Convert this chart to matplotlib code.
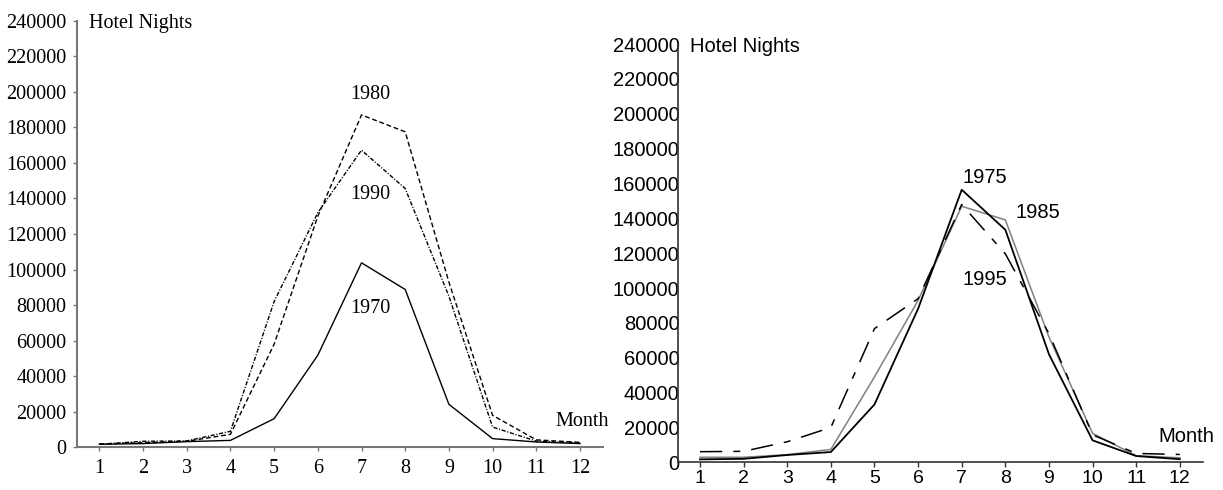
import matplotlib
matplotlib.use("Agg")
import matplotlib.pyplot as plt

months = list(range(1, 13))
month_labels = [str(m) for m in months]
yticks = list(range(0, 240001, 20000))

# Left panel
y1970 = [1700, 2100, 3200, 3900, 16100, 51800, 103800, 88800, 24200, 4900, 3000, 2100]
y1980 = [1900, 2600, 3400, 7300, 58000, 130000, 187000, 177500, 93000, 18000, 4200, 2800]
y1990 = [1700, 3400, 3600, 9000, 82000, 132000, 167200, 145600, 85000, 11400, 3500, 2500]

# Right panel
y1975 = [1700, 2000, 4200, 5900, 33200, 88100, 156400, 133400, 62000, 12600, 3600, 1800]
y1985 = [2900, 2900, 4400, 7400, 49000, 92900, 146900, 139100, 71900, 16600, 3800, 2600]
y1995 = [6100, 6300, 11800, 20000, 76700, 93900, 147900, 119600, 73800, 15800, 5100, 4500]

plt.rcParams['lines.scale_dashes'] = False

fig = plt.figure(figsize=(12.23, 4.90), dpi=100)

# ---------------- Left panel ----------------
serif = 'Liberation Serif'
axL = fig.add_axes([0.063, 0.0871, 0.4298, 0.8706])
axL.plot(months, y1970, color='black', lw=1.0, solid_joinstyle='miter')
axL.plot(months, y1980, color='black', lw=1.0, dashes=(3.5, 2.0))
axL.plot(months, y1990, color='black', lw=1.0, dashes=(3.0, 1.2, 0.8, 1.2))
axL.set_xlim(0.49, 12.52)
axL.set_ylim(0, 240000)
axL.set_xticks(months)
axL.set_xticklabels(month_labels, fontfamily=serif, fontsize=14.5)
axL.set_yticks(yticks)
axL.set_yticklabels([str(v) for v in yticks], fontfamily=serif, fontsize=14.5)
for s in ['top', 'right']:
    axL.spines[s].set_visible(False)
for s in ['left', 'bottom']:
    axL.spines[s].set_color('#777777')
    axL.spines[s].set_linewidth(1.5)
axL.tick_params(axis='x', length=3.2, width=1, color='#777777', pad=5.0)
axL.tick_params(axis='y', length=3.2, width=1, color='#777777', pad=4.5)
kwL = dict(fontfamily=serif, fontsize=14.5, va='baseline')
axL.text(7.21, 195800, '1980', ha='center', **kwL)
axL.text(7.21, 139500, '1990', ha='center', **kwL)
axL.text(7.21, 75700, '1970', ha='center', **kwL)
axL.text(12.05, 12150, 'Month', ha='center', clip_on=False, **kwL)
axL.text(0.76, 235700, 'Hotel Nights', ha='left', clip_on=False, **kwL)

# ---------------- Right panel ----------------
sans = 'Liberation Sans'
axR = fig.add_axes([0.5541, 0.0565, 0.4295, 0.8537])
axR.plot(months, y1985, color='#808080', lw=1.1)
axR.plot(months, y1975, color='black', lw=1.3)
axR.plot(months, y1995, color='black', lw=1.1, dashes=(16, 8, 5, 8))
axR.set_xlim(0.488, 12.53)
axR.set_ylim(0, 240000)
axR.set_xticks(months)
axR.set_xticklabels(month_labels, fontfamily=sans, fontsize=14)
axR.set_yticks(yticks)
axR.set_yticklabels([str(v) for v in yticks], fontfamily=sans, fontsize=14.5)
for s in ['top', 'right']:
    axR.spines[s].set_visible(False)
for s in ['left', 'bottom']:
    axR.spines[s].set_color('#333333')
    axR.spines[s].set_linewidth(1.2)
    axR.spines[s].set_zorder(5)
axR.tick_params(axis='x', length=3.6, width=1, color='#333333', pad=2.0)
axR.tick_params(axis='y', length=0, pad=-1.5)
kwR = dict(fontfamily=sans, fontsize=14.5, va='baseline')
axR.text(7.54, 160400, '1975', ha='center', **kwR)
axR.text(8.74, 140000, '1985', ha='center', **kwR)
axR.text(7.54, 101700, '1995', ha='center', **kwR)
axR.text(12.14, 11800, 'Month', ha='center', clip_on=False, **kwR)
axR.text(0.77, 235600, 'Hotel Nights', ha='left', clip_on=False, **kwR)

fig.savefig('out.png', dpi=100)
